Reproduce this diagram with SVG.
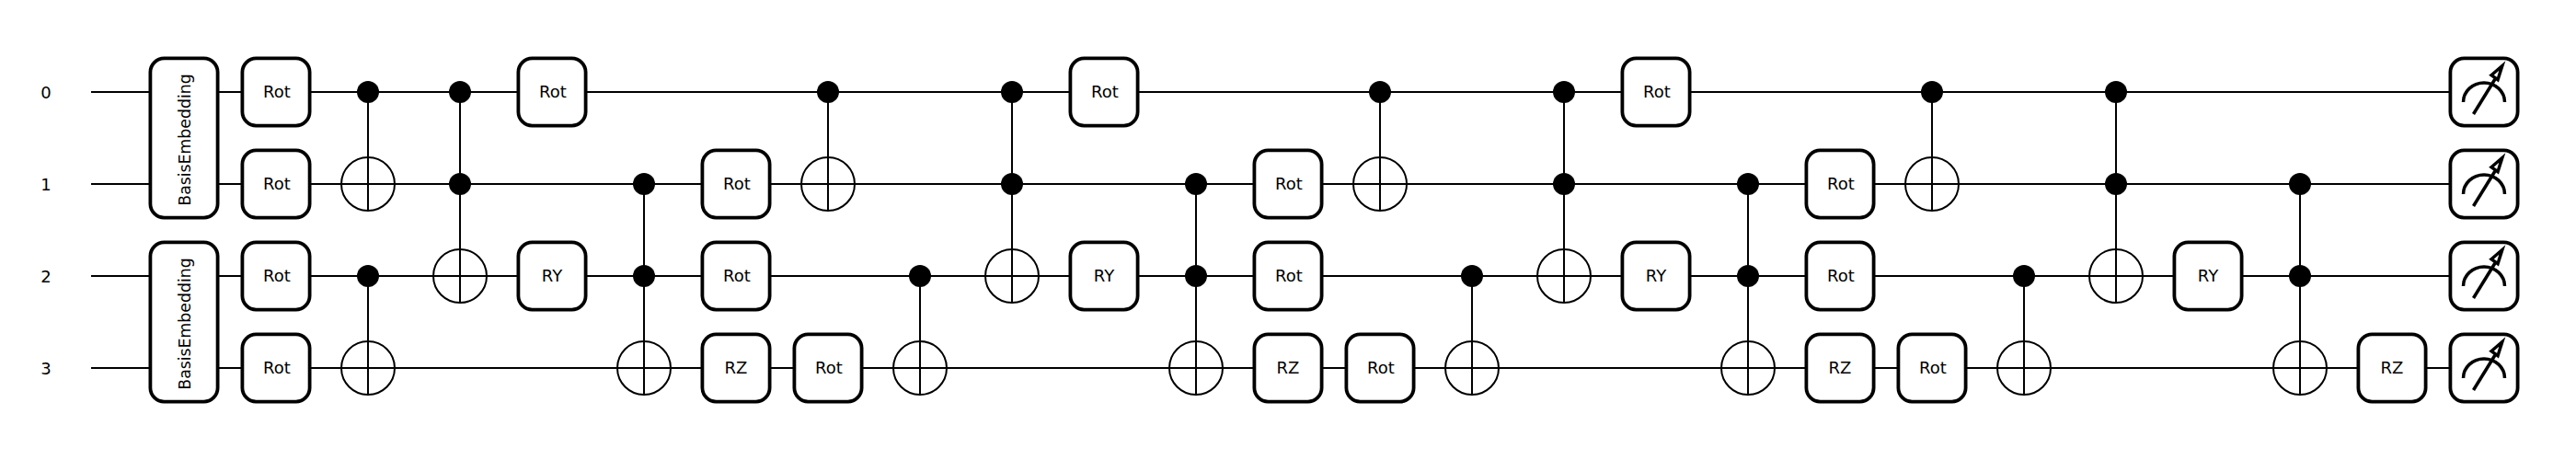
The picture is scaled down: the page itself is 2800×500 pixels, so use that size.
<svg xmlns="http://www.w3.org/2000/svg" width="2800" height="500" viewBox="0 0 2800 500">
<style>
text{font-family:"DejaVu Sans",sans-serif;font-size:18px;fill:#000;text-anchor:middle}
.be{font-size:17.3px}
.box{fill:#fff;stroke:#000;stroke-width:3.8}
.w{fill:none;stroke:#000;stroke-width:2}
.d{fill:#000}
.t{fill:none;stroke:#000;stroke-width:2}
.m{fill:none;stroke:#000;stroke-width:3.5}
</style>
<defs>
<rect id="g" class="box" x="-36.6" y="-36.6" width="73.2" height="73.2" rx="15"/>
<g id="ctrl"><circle class="d" r="12"/></g>
<g id="targ"><circle class="t" r="29"/></g>
<g id="meter"><rect class="box" x="-36.6" y="-36.6" width="73.2" height="73.2" rx="15"/>
<path class="m" d="M-22.5 11A22.5 21 0 0 1 22.5 11"/>
<path class="m" d="M-11.5 24L12-14"/>
<path d="M8-18.3L19.8-28.5L15-13.3Z" fill="#fff" stroke="#000" stroke-width="3.5" stroke-miterlimit="10"/>
</g>
</defs>
<text x="50" y="106.5">0</text><text x="50" y="206.5">1</text><text x="50" y="306.5">2</text><text x="50" y="406.5">3</text>
<g id="connectors" class="w">
<path d="M99 100H2700M99 200H2700M99 300H2700M99 400H2700"/>
<path d="M400 100V229M400 300V429M500 100V329M700 200V429M900 100V229M1000 300V429M1100 100V329M1300 200V429M1500 100V229M1600 300V429M1700 100V329M1900 200V429M2100 100V229M2200 300V429M2300 100V329M2500 200V429"/>
</g>
<g id="be0"><rect class="box" x="163.4" y="63.4" width="73.2" height="173.2" rx="15"/><text class="be" transform="translate(206.5 152) rotate(-90)">BasisEmbedding</text></g>
<g id="be1"><rect class="box" x="163.4" y="263.4" width="73.2" height="173.2" rx="15"/><text class="be" transform="translate(206.5 352) rotate(-90)">BasisEmbedding</text></g>
<g id="n300_0" transform="translate(300 100)"><use href="#g"/><text x="1" y="6.3">Rot</text></g>
<g id="n300_1" transform="translate(300 200)"><use href="#g"/><text x="1" y="6.3">Rot</text></g>
<g id="n300_2" transform="translate(300 300)"><use href="#g"/><text x="1" y="6.3">Rot</text></g>
<g id="n300_3" transform="translate(300 400)"><use href="#g"/><text x="1" y="6.3">Rot</text></g>
<g id="cnot400a"><use href="#ctrl" x="400" y="100"/><use href="#targ" x="400" y="200"/></g>
<g id="cnot400b"><use href="#ctrl" x="400" y="300"/><use href="#targ" x="400" y="400"/></g>
<g id="tof500"><use href="#ctrl" x="500" y="100"/><use href="#ctrl" x="500" y="200"/><use href="#targ" x="500" y="300"/></g>
<g id="n600_0" transform="translate(600 100)"><use href="#g"/><text x="1" y="6.3">Rot</text></g>
<g id="n600_2" transform="translate(600 300)"><use href="#g"/><text y="6.3">RY</text></g>
<g id="tof700"><use href="#ctrl" x="700" y="200"/><use href="#ctrl" x="700" y="300"/><use href="#targ" x="700" y="400"/></g>
<g id="n800_1" transform="translate(800 200)"><use href="#g"/><text x="1" y="6.3">Rot</text></g>
<g id="n800_2" transform="translate(800 300)"><use href="#g"/><text x="1" y="6.3">Rot</text></g>
<g id="n800_3" transform="translate(800 400)"><use href="#g"/><text y="6.3">RZ</text></g>
<g id="cnot900"><use href="#ctrl" x="900" y="100"/><use href="#targ" x="900" y="200"/></g>
<g id="n900_3" transform="translate(900 400)"><use href="#g"/><text x="1" y="6.3">Rot</text></g>
<g id="cnot1000"><use href="#ctrl" x="1000" y="300"/><use href="#targ" x="1000" y="400"/></g>
<g id="tof1100"><use href="#ctrl" x="1100" y="100"/><use href="#ctrl" x="1100" y="200"/><use href="#targ" x="1100" y="300"/></g>
<g id="n1200_0" transform="translate(1200 100)"><use href="#g"/><text x="1" y="6.3">Rot</text></g>
<g id="n1200_2" transform="translate(1200 300)"><use href="#g"/><text y="6.3">RY</text></g>
<g id="tof1300"><use href="#ctrl" x="1300" y="200"/><use href="#ctrl" x="1300" y="300"/><use href="#targ" x="1300" y="400"/></g>
<g id="n1400_1" transform="translate(1400 200)"><use href="#g"/><text x="1" y="6.3">Rot</text></g>
<g id="n1400_2" transform="translate(1400 300)"><use href="#g"/><text x="1" y="6.3">Rot</text></g>
<g id="n1400_3" transform="translate(1400 400)"><use href="#g"/><text y="6.3">RZ</text></g>
<g id="cnot1500"><use href="#ctrl" x="1500" y="100"/><use href="#targ" x="1500" y="200"/></g>
<g id="n1500_3" transform="translate(1500 400)"><use href="#g"/><text x="1" y="6.3">Rot</text></g>
<g id="cnot1600"><use href="#ctrl" x="1600" y="300"/><use href="#targ" x="1600" y="400"/></g>
<g id="tof1700"><use href="#ctrl" x="1700" y="100"/><use href="#ctrl" x="1700" y="200"/><use href="#targ" x="1700" y="300"/></g>
<g id="n1800_0" transform="translate(1800 100)"><use href="#g"/><text x="1" y="6.3">Rot</text></g>
<g id="n1800_2" transform="translate(1800 300)"><use href="#g"/><text y="6.3">RY</text></g>
<g id="tof1900"><use href="#ctrl" x="1900" y="200"/><use href="#ctrl" x="1900" y="300"/><use href="#targ" x="1900" y="400"/></g>
<g id="n2000_1" transform="translate(2000 200)"><use href="#g"/><text x="1" y="6.3">Rot</text></g>
<g id="n2000_2" transform="translate(2000 300)"><use href="#g"/><text x="1" y="6.3">Rot</text></g>
<g id="n2000_3" transform="translate(2000 400)"><use href="#g"/><text y="6.3">RZ</text></g>
<g id="cnot2100"><use href="#ctrl" x="2100" y="100"/><use href="#targ" x="2100" y="200"/></g>
<g id="n2100_3" transform="translate(2100 400)"><use href="#g"/><text x="1" y="6.3">Rot</text></g>
<g id="cnot2200"><use href="#ctrl" x="2200" y="300"/><use href="#targ" x="2200" y="400"/></g>
<g id="tof2300"><use href="#ctrl" x="2300" y="100"/><use href="#ctrl" x="2300" y="200"/><use href="#targ" x="2300" y="300"/></g>
<g id="n2400_2" transform="translate(2400 300)"><use href="#g"/><text y="6.3">RY</text></g>
<g id="tof2500"><use href="#ctrl" x="2500" y="200"/><use href="#ctrl" x="2500" y="300"/><use href="#targ" x="2500" y="400"/></g>
<g id="n2600_3" transform="translate(2600 400)"><use href="#g"/><text y="6.3">RZ</text></g>
<g id="meas0"><use href="#meter" x="2700" y="100"/></g>
<g id="meas1"><use href="#meter" x="2700" y="200"/></g>
<g id="meas2"><use href="#meter" x="2700" y="300"/></g>
<g id="meas3"><use href="#meter" x="2700" y="400"/></g>
</svg>
